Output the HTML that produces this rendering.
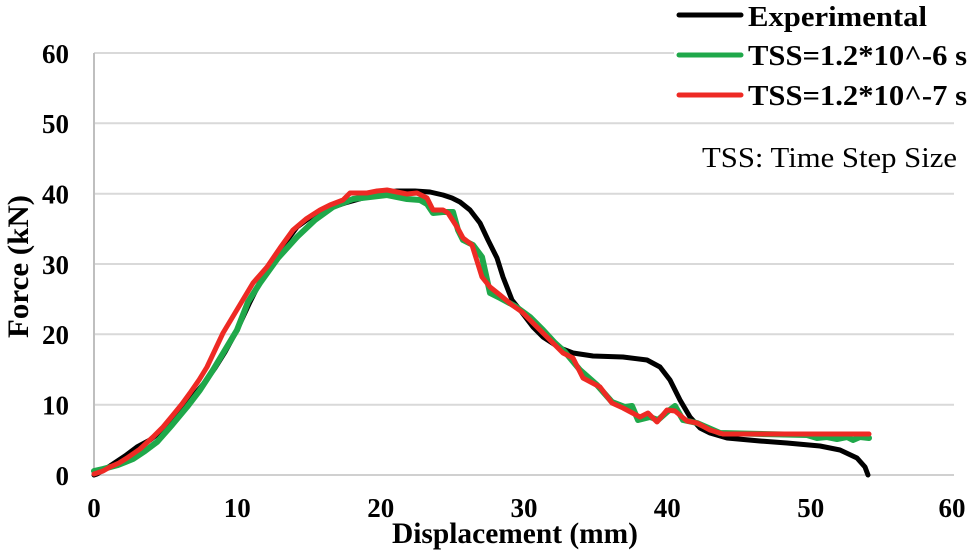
<!DOCTYPE html>
<html>
<head>
<meta charset="utf-8">
<style>
html,body{margin:0;padding:0;background:#fff;}
svg{display:block;}
.t{font-family:"Liberation Serif","Times New Roman",serif;}
.b{font-family:"Liberation Serif","Times New Roman",serif;font-weight:bold;}
</style>
</head>
<body>
<svg width="969" height="555" viewBox="0 0 969 555" xmlns="http://www.w3.org/2000/svg">
<rect x="0" y="0" width="969" height="555" fill="#fff"/>
<!-- gridlines -->
<g stroke="#d9d9d9" stroke-width="2">
<line x1="94" y1="53" x2="954" y2="53"/>
<line x1="94" y1="123.3" x2="954" y2="123.3"/>
<line x1="94" y1="193.7" x2="954" y2="193.7"/>
<line x1="94" y1="264" x2="954" y2="264"/>
<line x1="94" y1="334.3" x2="954" y2="334.3"/>
<line x1="94" y1="404.7" x2="954" y2="404.7"/>
</g>
<line x1="94" y1="475" x2="954" y2="475" stroke="#d0d0d0" stroke-width="2"/>
<line x1="94" y1="53" x2="94" y2="476" stroke="#bfbfbf" stroke-width="2"/>

<!-- y tick labels -->
<g class="b" font-size="27" fill="#000" text-anchor="end">
<text x="69" y="63">60</text>
<text x="69" y="133">50</text>
<text x="69" y="203.5">40</text>
<text x="69" y="274">30</text>
<text x="69" y="344">20</text>
<text x="69" y="414.5">10</text>
<text x="69" y="485">0</text>
</g>
<!-- x tick labels -->
<g class="b" font-size="27" fill="#000" text-anchor="middle">
<text x="94" y="517">0</text>
<text x="237.3" y="517">10</text>
<text x="380.7" y="517">20</text>
<text x="524" y="517">30</text>
<text x="667.3" y="517">40</text>
<text x="810.7" y="517">50</text>
<text x="952" y="517">60</text>
</g>
<!-- axis titles -->
<text class="b" x="392" y="543" font-size="30" textLength="246" lengthAdjust="spacingAndGlyphs">Displacement (mm)</text>
<text class="b" transform="translate(28,338) rotate(-90)" x="0" y="0" font-size="30" textLength="143" lengthAdjust="spacingAndGlyphs">Force (kN)</text>

<!-- series -->
<g fill="none" stroke-linejoin="round" stroke-linecap="round">
<polyline stroke="#000" stroke-width="5" points="94,475 97,474 110,466 125,456 137,447 150,440 165,428 178,414 190,400 205,382 215,368 225,352 237,330 250,302 265,272 280,250 297,227 315,214 330,208 345,203 363,198 380,193 397,191 415,191 430,192 443,195 452,198 460,202 470,210 480,223 488,240 497,258 503,277 512,300 520,310 533,327 543,337 560,348 573,353 593,356 623,357 647,360 660,367 670,380 680,400 690,417 700,428 710,433 727,438 760,441 787,443 820,446 840,450 857,458 865,467 868,475"/>
<polyline stroke="#1fa84a" stroke-width="6" points="94,471 103,469 118,465 133,459 145,451 157,442 172,425 187,407 200,390 213,370 225,350 237,330 248,302 260,283 278,258 297,237 315,220 333,207 343,203 353,199 370,197 387,195 397,197 407,199 420,200 427,204 433,213 443,212 453,212 458,230 463,240 473,245 482,257 490,293 500,298 515,306 530,317 543,330 555,343 565,352 580,370 597,385 612,402 625,407 632,406 638,420 650,417 658,420 667,412 675,406 683,420 697,423 720,433 807,435 817,438 827,437 837,439 847,437 853,440 860,437 869,438"/>
<polyline stroke="#ee2a24" stroke-width="5" points="94,474 103,471 110,467 119,463 127,458 140,449 153,437 163,427 173,415 182,404 190,393 199,380 207,367 215,350 223,333 238,308 253,283 260,275 267,267 280,248 293,230 306,219 320,210 330,205 343,200 350,193 367,193 377,191 387,190 397,192 407,194 417,193 427,198 433,210 443,210 448,213 457,227 463,238 472,245 482,277 490,287 500,295 512,305 522,312 530,320 540,330 553,343 563,353 573,358 583,378 600,387 612,403 623,408 640,417 648,413 657,422 667,410 675,411 687,421 697,423 710,430 723,434 869,434"/>
</g>

<!-- legend -->
<rect x="674" y="0" width="295" height="108" fill="#fff"/>
<line x1="679" y1="15" x2="741" y2="15" stroke="#000" stroke-width="5" stroke-linecap="round"/>
<line x1="679" y1="55" x2="741" y2="55" stroke="#1fa84a" stroke-width="5" stroke-linecap="round"/>
<line x1="679" y1="95" x2="741" y2="95" stroke="#ee2a24" stroke-width="5" stroke-linecap="round"/>
<g class="b" font-size="29" fill="#000">
<text x="748" y="26" textLength="179" lengthAdjust="spacingAndGlyphs">Experimental</text>
<text x="748" y="65" textLength="219" lengthAdjust="spacingAndGlyphs">TSS=1.2*10^-6 s</text>
<text x="748" y="105" textLength="219" lengthAdjust="spacingAndGlyphs">TSS=1.2*10^-7 s</text>
</g>
<text class="t" x="702" y="167" font-size="29" fill="#000" textLength="255" lengthAdjust="spacingAndGlyphs">TSS: Time Step Size</text>
</svg>
</body>
</html>
